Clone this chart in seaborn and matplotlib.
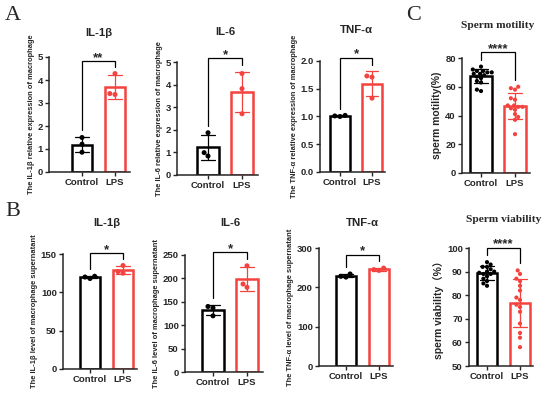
import pandas as pd
import seaborn as sns
import matplotlib.pyplot as plt

# values
groups = ['Control', 'LPS']

a_il1b_ctrl = [1.50, 1.21, 0.86]
a_il1b_lps = [4.28, 3.37, 3.41]
a_il6_ctrl = [1.87, 0.99, 0.84]
a_il6_lps = [4.49, 3.82, 2.71]
a_tnf_ctrl = [1.02, 1.00, 1.01]
a_tnf_lps = [1.73, 1.71, 1.33]

b_il1b_ctrl = [118, 120, 121]
b_il1b_lps = [135, 125, 127]
b_il6_ctrl = [140, 137, 120]
b_il6_lps = [227, 188, 181]
b_tnf_ctrl = [234, 226, 228]
b_tnf_lps = [249, 245, 243]

motility_ctrl = [74, 72, 71, 71, 70, 70, 69, 69, 68, 67, 66, 64, 63, 58, 57]
motility_lps = [60, 59, 58, 52, 51, 47, 46, 47, 46, 45, 44, 41, 39, 37, 27]
viability_ctrl = [94, 93, 92, 92, 91, 90, 90, 89.5, 89, 89, 88, 87, 86, 85, 84]
viability_lps = [90.5, 89, 87, 86, 84, 82, 79, 78, 76, 75, 73, 68, 64, 62, 58]

titles = ['IL-1β', 'IL-6', 'TNF-α', 'IL-1β', 'IL-6', 'TNF-α', 'Sperm motility', 'Sperm viability']
ylabels = ['The IL-1β relative expression of macrophage',
           'The IL-6 relative expression of macrophage',
           'The TNF-α relative expression of macrophage',
           'The IL-1β level of macrophage supernatant',
           'The IL-6 level of macrophage supernatant',
           'The TNF-α level of macrophage supernatant',
           'sperm motility(%)',
           'sperm viability（%）']
stars = ['**', '*', '*', '*', '*', '*', '****', '****']
bracket_y = [4.83, 5.18, 2.06, 151, 256, 283, 84.2, 100.1]
yticks = [[0, 1, 2, 3, 4, 5], [0, 1, 2, 3, 4, 5], [0, 0.5, 1.0, 1.5, 2.0],
          [0, 50, 100, 150], [0, 50, 100, 150, 200, 250], [0, 100, 200, 300],
          [0, 20, 40, 60, 80], [50, 60, 70, 80, 90, 100]]

data = [(a_il1b_ctrl, a_il1b_lps), (a_il6_ctrl, a_il6_lps), (a_tnf_ctrl, a_tnf_lps),
        (b_il1b_ctrl, b_il1b_lps), (b_il6_ctrl, b_il6_lps), (b_tnf_ctrl, b_tnf_lps),
        (motility_ctrl, motility_lps), (viability_ctrl, viability_lps)]

# layout in pixels: y-axis x, control x, LPS x, axis right, top y, bottom y, title y
layout = [(49, 82, 115, 130, 57, 172, 33),
          (177, 208, 242, 258, 62, 175, 32),
          (320, 340, 372, 385, 61, 172, 30),
          (63, 90, 123, 137, 254, 369, 223),
          (185, 213, 247, 263, 255, 372, 223),
          (319, 346, 379, 393, 248, 366, 223),
          (462, 481, 515, 530, 58, 173, 25),
          (469, 487, 520, 533, 248, 366, 219)]

RED = '#F4433F'
colors = {'Control': 'black', 'LPS': RED}

sns.set_style('ticks')
plt.rcParams['font.family'] = ['Liberation Sans', 'Noto Sans CJK SC', 'DejaVu Sans']
plt.rcParams['font.weight'] = 'bold'

W, H = 550, 400
fig = plt.figure(figsize=(5.5, 4), dpi=100)

for i in range(8):
    ax0, cx, lx, rx, ytop, ybot, ty = layout[i]
    ctrl, lps = data[i]
    df = pd.DataFrame({'group': ['Control'] * len(ctrl) + ['LPS'] * len(lps),
                       'value': ctrl + lps})
    ax = fig.add_axes([ax0 / W, 1 - ybot / H, (rx - ax0) / W, (ybot - ytop) / H])
    big = i >= 6

    sns.barplot(data=df, x='group', y='value', hue='group', palette=colors,
                order=groups, fill=False, width=0.62, linewidth=1.8,
                errorbar='sd', capsize=0.4, err_kws={'linewidth': 0.9},
                legend=False, ax=ax)
    for ln in ax.lines:
        xs = [x for x in ln.get_xdata() if x == x]
        ln.set_color('black' if sum(xs) / len(xs) < 0.5 else RED)
        ln.set_zorder(4)
    sns.swarmplot(data=df, x='group', y='value', hue='group', palette=colors,
                  order=groups, size=3.0 if big else 3.6, legend=False, ax=ax, zorder=3)

    s = lx - cx
    ax.set_xlim((ax0 - cx) / s, (rx - cx) / s)
    ax.set_ylim(yticks[i][0], yticks[i][-1])
    ax.set_yticks(yticks[i])
    if i == 2:
        ax.set_yticklabels(['0.0', '0.5', '1.0', '1.5', '2.0'])
    ax.set_xlabel('')
    ax.set_ylabel(ylabels[i], fontsize=7.5 if big else 5.4, fontweight='bold', labelpad=2)
    ax.tick_params(labelsize=6.8, length=3, width=1, pad=1.5)
    for lab in ax.get_xticklabels() + ax.get_yticklabels():
        lab.set_fontweight('bold')
    for sp in ['left', 'bottom']:
        ax.spines[sp].set_linewidth(1.1)
    sns.despine(ax=ax)

    # significance bracket
    yr = yticks[i][-1] - yticks[i][0]
    gap = 0.06 * yr
    tops = []
    for vals in (ctrl, lps):
        m = sum(vals) / len(vals)
        sd = (sum((v - m) ** 2 for v in vals) / (len(vals) - 1)) ** 0.5
        tops.append(max(max(vals), m + sd) + gap)
    by = bracket_y[i]
    ax.plot([0, 0, 1, 1], [tops[0], by, by, tops[1]], color='black', lw=0.9,
            clip_on=False, solid_joinstyle='miter')
    ax.annotate(stars[i], (0.5, by), xytext=(0, -2), textcoords='offset points',
                ha='center', va='bottom', fontsize=9.5, fontweight='bold',
                annotation_clip=False)

    tfont = {'family': 'Liberation Serif', 'fontsize': 8.2} if big else {'fontsize': 8.2}
    fig.text((cx + lx) / 2 / W, 1 - ty / H, titles[i], ha='center', va='center',
             fontweight='bold', **tfont)

for lbl, x, y in [('A', 13, 15), ('B', 13, 211), ('C', 414, 15)]:
    fig.text(x / W, 1 - y / H, lbl, ha='center', va='center', fontsize=16,
             family='Liberation Serif', fontweight='normal')

fig.savefig('out.png', dpi=100)
